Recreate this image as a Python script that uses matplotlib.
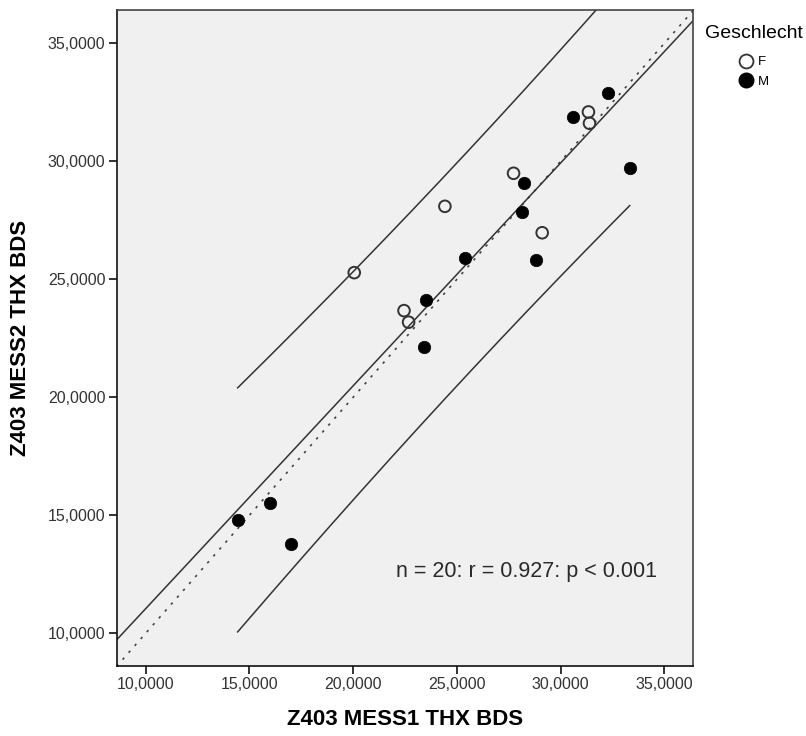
import numpy as np
import matplotlib
matplotlib.use("Agg")
import matplotlib.pyplot as plt
from matplotlib.lines import Line2D

# Data
x_m = [14.43, 15.97, 17.02, 23.42, 23.52, 25.38, 28.13, 28.24, 28.82, 30.59, 32.30, 33.33]
y_m = [14.80, 15.53, 13.77, 22.12, 24.12, 25.90, 27.86, 29.07, 25.82, 31.89, 32.91, 29.70]
x_f = [20.05, 22.45, 22.67, 24.42, 27.73, 29.11, 31.34, 31.39]
y_f = [25.28, 23.67, 23.18, 28.09, 29.49, 26.97, 32.09, 31.61]
ticks = [10, 15, 20, 25, 30, 35]
tick_labels = ["10,0000", "15,0000", "20,0000", "25,0000", "30,0000", "35,0000"]
x_label = "Z403 MESS1 THX BDS"
y_label = "Z403 MESS2 THX BDS"
legend_title = "Geschlecht"
groups = ["F", "M"]
annotation = "n = 20: r = 0.927: p < 0.001"
t_crit = 2.1009  # t(0.975, df=18)

plt.rcParams['font.family'] = ['Liberation Sans', 'DejaVu Sans']

fig = plt.figure(figsize=(8.06, 7.36), dpi=100)
ax = fig.add_axes([116.5/806, 1-666/736, (693-116.5)/806, (666-10)/736])
ax.set_facecolor('#F0F0F0')
xlim = (8.59, 36.38)
ylim = (8.61, 36.41)
ax.set_xlim(*xlim)
ax.set_ylim(*ylim)

# Regression and prediction interval computed from data
x_all = np.array(x_m + x_f)
y_all = np.array(y_m + y_f)
n = len(x_all)
b, a = np.polyfit(x_all, y_all, 1)
resid = y_all - (a + b * x_all)
s = np.sqrt(np.sum(resid**2) / (n - 2))
xm = x_all.mean()
sxx = np.sum((x_all - xm)**2)

xs = np.linspace(xlim[0], xlim[1], 200)
ax.plot(xs, xs, color='#444444', lw=1.2, ls=(0, (1.5, 4)), zorder=2)
ax.plot(xs, a + b * xs, color='#333333', lw=1.1, zorder=2)
xp = np.linspace(x_all.min(), x_all.max(), 200)
half = t_crit * s * np.sqrt(1 + 1/n + (xp - xm)**2 / sxx)
ax.plot(xp, a + b * xp + half, color='#333333', lw=1.1, zorder=2)
ax.plot(xp, a + b * xp - half, color='#333333', lw=1.1, zorder=2)

ax.scatter(x_f, y_f, s=70, facecolors='none', edgecolors='#333333', linewidths=1.4, zorder=3)
ax.scatter(x_m, y_m, s=80, facecolors='black', edgecolors='black', linewidths=0.5, zorder=3)

ax.text((396-116.5)/576.5, (666-571)/656, annotation, transform=ax.transAxes,
        fontsize=15.5, color='#2a2a2a', ha='left', va='center')

ax.set_xticks(ticks)
ax.set_xticklabels(tick_labels)
ax.set_yticks(ticks)
ax.set_yticklabels(tick_labels)
ax.tick_params(direction='out', length=6, width=1.3, color='#222222',
               labelsize=11.5, labelcolor='#333333', pad=2)
for side in ['left', 'bottom', 'top', 'right']:
    ax.spines[side].set_linewidth(1.2)
    ax.spines[side].set_color('#444444')
ax.spines['left'].set_color('#111111')
ax.spines['bottom'].set_color('#111111')

ax.set_xlabel(x_label, fontsize=16, fontweight='bold', labelpad=12)
ax.set_ylabel(y_label, fontsize=16, fontweight='bold', labelpad=12)

handles = [Line2D([], [], marker='o', ls='none', markersize=10, markerfacecolor='white',
                  markeredgecolor='#333333', markeredgewidth=1.3),
           Line2D([], [], marker='o', ls='none', markersize=10.5, markerfacecolor='black',
                  markeredgecolor='black')]
leg = fig.legend(handles, groups, title=legend_title, loc='upper left',
                 bbox_to_anchor=(696/806, 1-16/736), frameon=False,
                 fontsize=9.5, title_fontsize=14, handletextpad=0.35,
                 labelspacing=0.55, handlelength=1.0, borderpad=0.2)
leg._legend_box.align = 'center'
leg._legend_box.sep = 10

fig.savefig('out.png', dpi=100)
